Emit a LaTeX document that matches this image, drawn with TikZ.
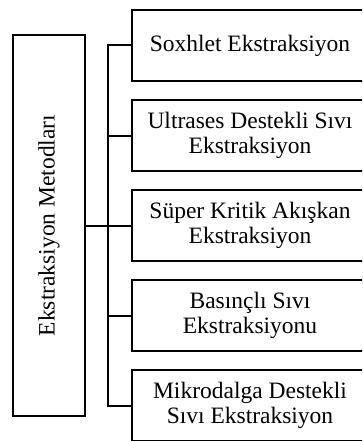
\documentclass[tikz,border=0pt]{standalone}
\usepackage{fontspec}
\setmainfont{Liberation Serif}
\begin{document}
\begin{tikzpicture}[x=1pt,y=-1pt,
  line width=2pt,
  methodbox/.style={draw, minimum width=236pt, minimum height=71pt,
    inner sep=0pt, align=center, font=\fontsize{23.5}{25}\selectfont},
  rootbox/.style={draw, minimum width=381pt, minimum height=72pt,
    inner sep=0pt, rotate=90, font=\fontsize{23.5}{25}\selectfont}]
  \useasboundingbox (0,0) rectangle (362,441);
  \clip (0,0) rectangle (362,441);

  % root category, text running bottom to top
  \node[rootbox] (root) at (49,225.5) {Ekstraksiyon Metodları};

  % the five methods
  \node[methodbox] (m1) at (250,45.5)  {Soxhlet Ekstraksiyon};
  \node[methodbox] (m2) at (250,135.5) {Ultrases Destekli Sıvı\\Ekstraksiyon};
  \node[methodbox] (m3) at (250,225.5) {Süper Kritik Akışkan\\Ekstraksiyon};
  \node[methodbox] (m4) at (250,315.5) {Basınçlı Sıvı\\Ekstraksiyonu};
  \node[methodbox] (m5) at (250,405.5) {Mikrodalga Destekli\\Sıvı Ekstraksiyon};

  % vertical spine of the tree
  \coordinate (spine) at (108.3,0);

  % connectors
  \draw (root.south) -- (m3.west);
  \draw (m1.west) -- (m1.west -| spine) -- (m5.west -| spine) -- (m5.west);
  \draw (m2.west) -- (m2.west -| spine);
  \draw (m4.west) -- (m4.west -| spine);
\end{tikzpicture}
\end{document}
